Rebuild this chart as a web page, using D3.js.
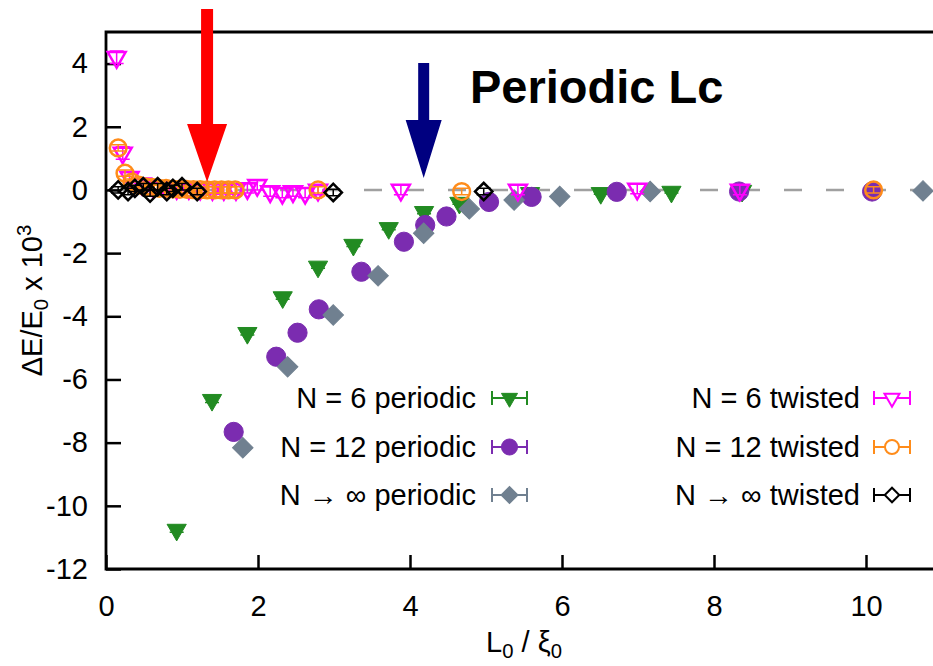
<!DOCTYPE html>
<html><head><meta charset="utf-8">
<script src="https://cdn.jsdelivr.net/npm/d3@7"></script>
<style>body{margin:0;background:#fff;} svg{display:block;} text{font-family:"Liberation Sans",Arial,Helvetica,sans-serif;}</style>
</head><body>
<svg id="c" width="933" height="666"></svg>
<script>
// ---- data: [L0/xi0, dE/E0 x 1e3, error] ----
const n6Periodic = [[0.93,-10.76,0.08],[1.395,-6.65,0.08],[1.86,-4.53,0.06],[2.325,-3.40,0.06],[2.79,-2.43,0.05],[3.255,-1.74,0.05],[3.72,-1.21,0.05],[4.185,-0.70,0.05],[4.65,-0.41,0.04],[5.58,-0.10,0.04],[6.51,-0.10,0.04],[7.44,-0.06,0.04],[8.37,-0.03,0.04]];
const n12Periodic = [[1.68,-7.66,0.05],[2.24,-5.28,0.05],[2.52,-4.52,0.05],[2.80,-3.78,0.05],[3.36,-2.59,0.05],[3.92,-1.64,0.05],[4.20,-1.11,0.05],[4.48,-0.84,0.05],[5.04,-0.38,0.04],[5.60,-0.22,0.04],[6.72,-0.06,0.04],[8.33,-0.05,0.04],[10.08,-0.05,0.04]];
const nInfPeriodic = [[1.80,-8.16,0.05],[2.39,-5.60,0.05],[2.99,-3.96,0.05],[3.58,-2.72,0.05],[4.18,-1.37,0.05],[4.78,-0.60,0.04],[5.37,-0.32,0.04],[5.97,-0.21,0.04],[7.16,-0.05,0.04],[10.75,-0.03,0.04]];
const n6Twisted = [[0.14,4.20,0.2],[0.22,1.17,0.2],[0.31,0.40,0.15],[0.47,0.20,0.15],[0.62,0.10,0.15],[0.78,0.08,0.15],[0.93,0.05,0.15],[1.09,0.05,0.15],[1.24,0.03,0.15],[1.40,0.02,0.15],[1.55,0.02,0.15],[1.71,0.02,0.15],[1.86,0.05,0.15],[1.99,0.15,0.15],[2.16,-0.05,0.15],[2.32,-0.10,0.15],[2.46,-0.05,0.15],[2.62,-0.10,0.15],[2.79,0.00,0.15],[3.88,0.00,0.15],[5.42,0.00,0.15],[6.99,0.03,0.15],[8.34,0.00,0.15]];
const n12Twisted = [[0.16,1.33,0.1],[0.25,0.53,0.1],[0.34,0.25,0.1],[0.43,0.15,0.1],[0.52,0.10,0.1],[0.61,0.08,0.1],[0.70,0.05,0.1],[0.79,0.05,0.1],[0.88,0.03,0.1],[0.97,0.02,0.1],[1.06,0.02,0.1],[1.15,0.01,0.1],[1.24,0.01,0.1],[1.33,0.00,0.1],[1.43,0.00,0.1],[1.52,0.00,0.1],[1.61,0.00,0.1],[1.70,0.00,0.1],[2.79,0.00,0.1],[4.68,-0.05,0.1],[10.10,0.00,0.1]];
const nInfTwisted = [[0.16,0.00,0.1],[0.29,-0.05,0.1],[0.38,0.05,0.1],[0.49,0.10,0.1],[0.58,-0.10,0.1],[0.68,0.10,0.1],[0.80,-0.05,0.1],[0.88,0.05,0.1],[1.00,0.10,0.1],[1.20,-0.05,0.1],[2.99,-0.08,0.1],[4.97,-0.05,0.1]];

const xTicks = [0,2,4,6,8,10];
const yTicks = [-12,-10,-8,-6,-4,-2,0,2,4];
const periodicLabels = ["N = 6 periodic","N = 12 periodic","N \u2192 \u221E periodic"];
const twistedLabels = ["N = 6 twisted","N = 12 twisted","N \u2192 \u221E twisted"];
const arrowX = [1.33, 4.18];       // Lc markers (twisted, periodic)
const arrowTipY = [0.25, 0.38];
const arrowTopY = [5.73, 4.02];
const titleText = "Periodic Lc";

// ---- layout ----
const svg = d3.select("#c");
const L = 106, R = 942, T = 32, B = 569;
const x = d3.scaleLinear().domain([0, 11]).range([L, R]);
const y = d3.scaleLinear().domain([-12, 5]).range([B, T]);
const FS = 29;

// zero line
svg.append("line").attr("x1", x(0)).attr("x2", R).attr("y1", y(0)).attr("y2", y(0))
  .attr("stroke", "#a0a0a0").attr("stroke-width", 2.5).attr("stroke-dasharray", "18,24").attr("stroke-dashoffset", -6);

// axes
const gx = svg.append("g").attr("transform", `translate(0,${B})`)
  .call(d3.axisBottom(x).tickValues(xTicks).tickSizeInner(-14).tickSizeOuter(0).tickPadding(26).tickFormat(d3.format("d")));
const gy = svg.append("g").attr("transform", `translate(${L},0)`)
  .call(d3.axisLeft(y).tickValues(yTicks).tickSizeInner(-15).tickSizeOuter(0).tickPadding(18).tickFormat(d => d < 0 ? "-" + Math.abs(d) : String(d)));
[gx, gy].forEach(g => {
  g.select(".domain").remove();
  g.selectAll(".tick line").attr("stroke", "#000").attr("stroke-width", 2.5);
  g.selectAll(".tick text").attr("font-size", FS).attr("fill", "#000");
});
gx.selectAll(".tick text").attr("dy", "0.71em");

// frame
svg.append("path").attr("d", `M${R},${T}H${L}V${B}H${R}`).attr("fill", "none").attr("stroke", "#000").attr("stroke-width", 2.8);

// axis labels
const xl = svg.append("text").attr("x", (L + R) / 2).attr("y", 652).attr("text-anchor", "middle").attr("font-size", FS);
xl.append("tspan").text("L");
xl.append("tspan").text("0").attr("font-size", FS * 0.7).attr("dy", 6);
xl.append("tspan").text(" / \u03BE").attr("dy", -6);
xl.append("tspan").text("0").attr("font-size", FS * 0.7).attr("dy", 6);

const yl = svg.append("text").attr("transform", `translate(42,${(T + B) / 2}) rotate(-90)`).attr("text-anchor", "middle").attr("font-size", FS);
yl.append("tspan").text("\u0394E/E");
yl.append("tspan").text("0").attr("font-size", FS * 0.7).attr("dy", 6);
yl.append("tspan").text(" x 10").attr("dy", -6);
yl.append("tspan").text("3").attr("font-size", FS * 0.7).attr("dy", -11);

// ---- markers ----
const sym = {
  triDown: (s) => d3.symbol().type(d3.symbolTriangle).size(s)(),
  circle: (s) => d3.symbol().type(d3.symbolCircle).size(s)(),
  diamond: (s) => d3.symbol().type(d3.symbolSquare).size(s)()
};
const series = [
  {data: n6Periodic, color: "#228b22", shape: "triDown", size: 160, fill: true, rot: 180, sw: 1},
  {data: n12Periodic, color: "#7b2cb0", shape: "circle", size: 290, fill: true, rot: 0, sw: 1},
  {data: nInfPeriodic, color: "#708090", shape: "diamond", size: 210, fill: true, rot: 45, sw: 1},
  {data: n6Twisted, color: "#ff00ff", shape: "triDown", size: 140, fill: false, rot: 180, sw: 2.5},
  {data: n12Twisted, color: "#ff8c1a", shape: "circle", size: 220, fill: false, rot: 0, sw: 2.5},
  {data: nInfTwisted, color: "#000000", shape: "diamond", size: 150, fill: false, rot: 45, sw: 2.5}
];
const cap = 7;
series.forEach(s => {
  const g = svg.append("g");
  const pts = g.selectAll("g").data(s.data).join("g");
  pts.append("path")
    .attr("d", d => `M${x(d[0])},${y(d[1] - d[2])}V${y(d[1] + d[2])}M${x(d[0]) - cap},${y(d[1] - d[2])}h${2 * cap}M${x(d[0]) - cap},${y(d[1] + d[2])}h${2 * cap}`)
    .attr("stroke", s.color).attr("stroke-width", 1.5).attr("fill", "none");
  pts.append("path")
    .attr("d", sym[s.shape](s.size))
    .attr("transform", d => `translate(${x(d[0])},${y(d[1])}) rotate(${s.rot})`)
    .attr("fill", s.fill ? s.color : "none")
    .attr("stroke", s.color).attr("stroke-width", s.sw);
});

// ---- legend ----
const legRows = [398, 447, 495];
function legend(labels, ser, textX, sampleX0, sampleX1) {
  labels.forEach((lab, i) => {
    const s = ser[i], cy = legRows[i], cx = (sampleX0 + sampleX1) / 2;
    svg.append("text").attr("x", textX).attr("y", cy + 10).attr("text-anchor", "end").attr("font-size", FS).text(lab);
    svg.append("path").attr("d", `M${sampleX0},${cy}H${sampleX1}M${sampleX0},${cy - 7}v14M${sampleX1},${cy - 7}v14`)
      .attr("stroke", s.color).attr("stroke-width", 2).attr("fill", "none");
    svg.append("path").attr("d", sym[s.shape](s.size * 0.7))
      .attr("transform", `translate(${cx},${cy}) rotate(${s.rot})`)
      .attr("fill", s.fill ? s.color : "#fff").attr("stroke", s.color).attr("stroke-width", s.fill ? 1 : 2);
  });
}
legend(periodicLabels, series.slice(0, 3), 476, 492, 527);
legend(twistedLabels, series.slice(3, 6), 860, 874, 910);

// ---- annotations ----
const arrowColors = ["#ff0000", "#000080"];
arrowX.forEach((ax, i) => {
  const px = x(ax), tip = y(arrowTipY[i]), top = y(arrowTopY[i]);
  const headH = 58, headW = i === 0 ? 20 : 18, shaftW = i === 0 ? 6 : 5.5;
  svg.append("path")
    .attr("d", `M${px - shaftW},${top}H${px + shaftW}V${tip - headH}H${px + headW}L${px},${tip}L${px - headW},${tip - headH}H${px - shaftW}Z`)
    .attr("fill", arrowColors[i]);
});
svg.append("text").attr("x", 470).attr("y", 103).attr("font-size", 47).attr("font-weight", "bold").text(titleText);
</script>
</body></html>
